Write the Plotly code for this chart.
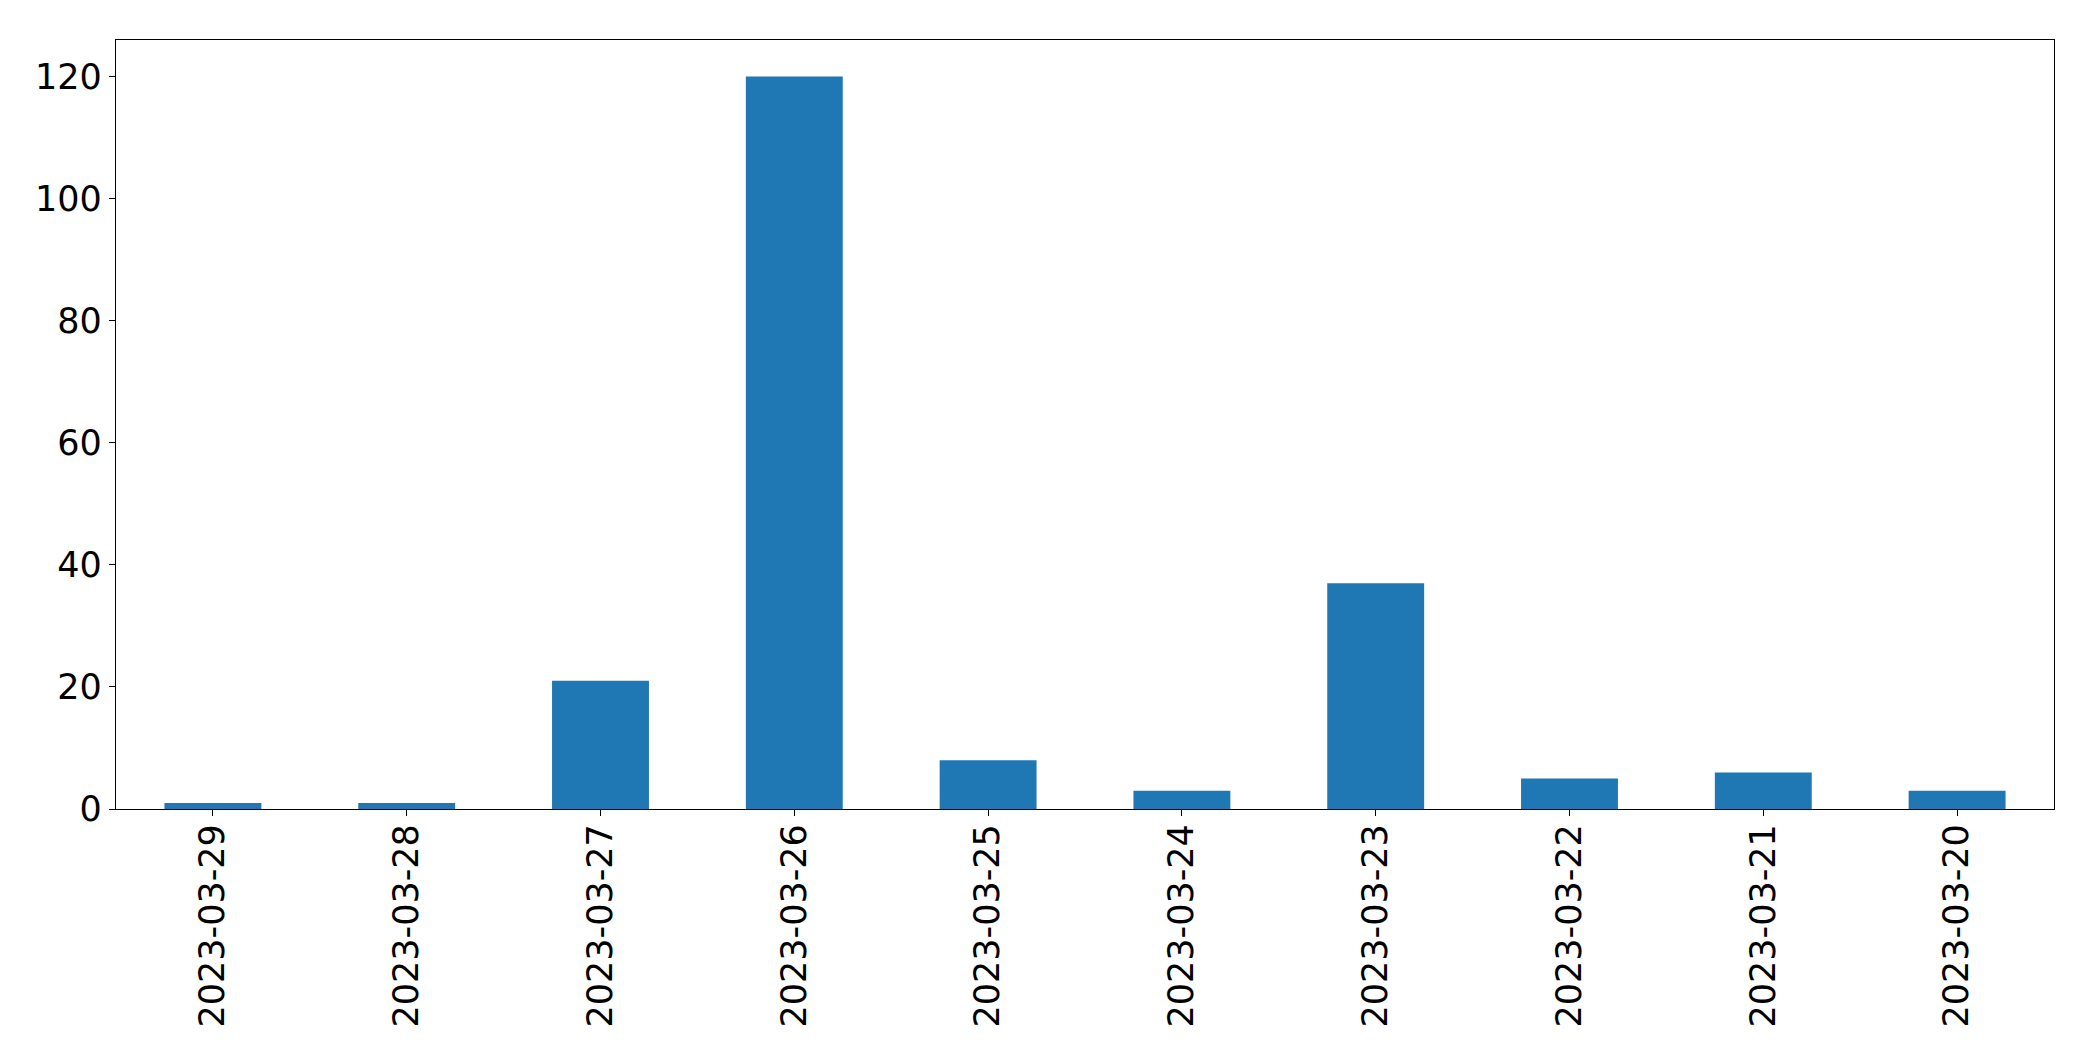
import plotly.graph_objects as go

dates = ["2023-03-29", "2023-03-28", "2023-03-27", "2023-03-26", "2023-03-25",
         "2023-03-24", "2023-03-23", "2023-03-22", "2023-03-21", "2023-03-20"]
counts = [1, 1, 21, 120, 8, 3, 37, 5, 6, 3]
y_ticks = [0, 20, 40, 60, 80, 100, 120]

fig = go.Figure(go.Bar(x=dates, y=counts, marker_color="#1f77b4", marker_line_width=0, width=0.5))

axis_common = dict(showline=True, linecolor="black", linewidth=1.3, mirror=True,
                   ticks="outside", ticklen=6, tickwidth=1.3, tickcolor="black",
                   showgrid=False, zeroline=False,
                   tickfont=dict(family="DejaVu Sans", size=35, color="black"))

# page body has an 8px default margin, so the figure is sized/placed to compensate
fig.update_layout(
    width=2085, height=1053,
    margin=dict(l=108, r=39, t=32, b=252),
    paper_bgcolor="white", plot_bgcolor="white",
    showlegend=False,
)
fig.update_xaxes(type="category", tickangle=-90, range=[-0.5, 9.5],
                 ticklabelstandoff=-6, **axis_common)
fig.update_yaxes(range=[0, 126], tickvals=y_ticks, **axis_common)

fig.write_html("out.html")
